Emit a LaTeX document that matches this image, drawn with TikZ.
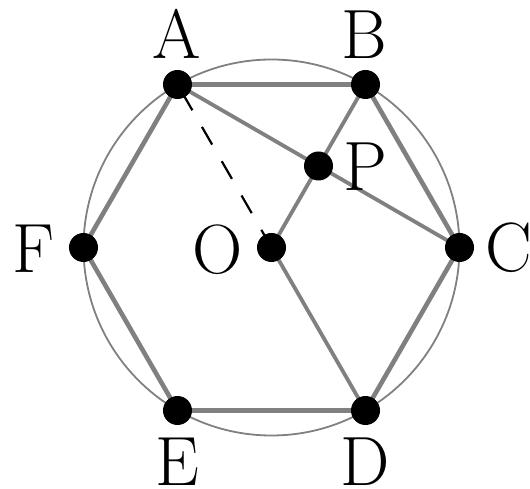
\documentclass[tikz,border=0pt]{standalone}
\usetikzlibrary{backgrounds}
\begin{document}
\begin{tikzpicture}[x=1bp,y=1bp,
  dot/.style={circle,fill=black,inner sep=0pt,minimum size=29bp},
  hexedge/.style={draw=gray,line width=4.6bp},
  chord/.style={draw=gray,line width=3.8bp},
  rim/.style={draw=gray,line width=1.8bp},
  dashline/.style={draw=black,line width=2.2bp,dash pattern=on 20.4bp off 19.2bp},
  lab/.style={inner sep=0pt,font=\fontsize{70}{70}\selectfont}]
\useasboundingbox (-271.5,-241.5) rectangle (258.5,247.5);
% points
\node[dot] (O) at (0,0) {};
\node[dot] (A) at (-94,163) {};
\node[dot] (B) at (94,163) {};
\node[dot] (C) at (188,0) {};
\node[dot] (D) at (94,-163) {};
\node[dot] (E) at (-94,-163) {};
\node[dot] (F) at (-188,0) {};
\node[dot] (P) at (47,81.5) {};
% lines
\begin{scope}[on background layer]
\draw[rim] (O.center) circle[radius=188bp];
\draw[hexedge] (A.center) -- (B.center) -- (C.center) -- (D.center) -- (E.center) -- (F.center) -- cycle;
\draw[chord] (A.center) -- (C.center);
\draw[chord] (B.center) -- (O.center);
\draw[chord] (O.center) -- (D.center);
\draw[dashline] (O.center) -- (A.center);
\end{scope}
% labels
\node[lab,anchor=base] (lA) at (-94.5,188.5) {A};
\node[lab,anchor=base] (lB) at (93,188.5) {B};
\node[lab,anchor=base west] (lC) at (214,-24.5) {C};
\node[lab,anchor=base] (lD) at (93.2,-237.5) {D};
\node[lab,anchor=base] (lE) at (-94,-237.5) {E};
\node[lab,anchor=base] (lF) at (-238.2,-25.2) {F};
\node[lab,anchor=base] (lO) at (-53.8,-26) {O};
\node[lab,anchor=base west] (lP) at (71.7,56.8) {P};
\end{tikzpicture}
\end{document}
